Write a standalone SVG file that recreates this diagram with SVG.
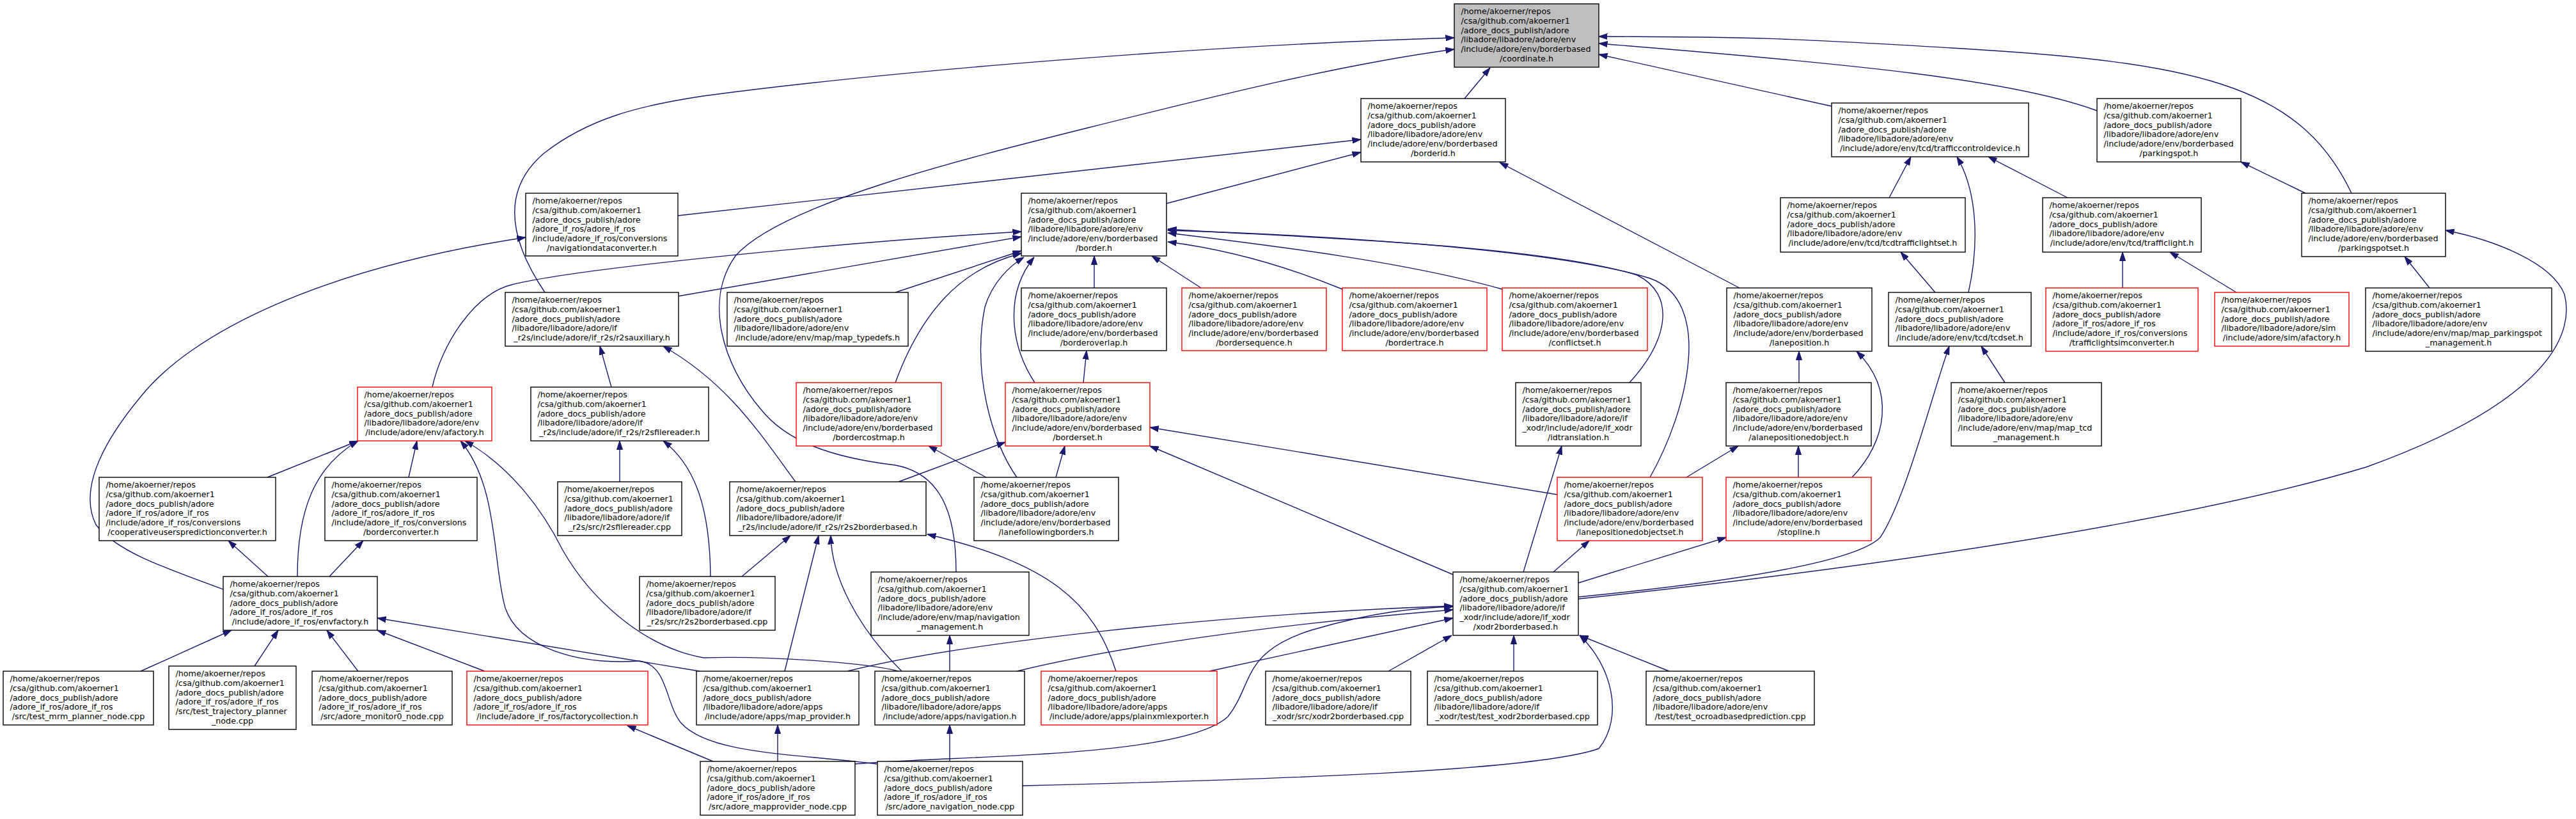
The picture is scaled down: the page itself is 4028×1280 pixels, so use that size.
<svg xmlns="http://www.w3.org/2000/svg" width="4028" height="1280" viewBox="0 0 4028 1280">
<style>
.n rect{fill:#fff;stroke:#000;stroke-width:1.4}
.n.r rect{stroke:#ff0000}
.n.g rect{fill:#bfbfbf}
.n text{font-family:"DejaVu Sans",sans-serif;font-size:12.7px;fill:#000}
.n .c{text-anchor:middle}
#edges path{fill:none;stroke:#191970;stroke-width:1.4;marker-end:url(#a)}
</style>
<defs>
<marker id="a" markerUnits="userSpaceOnUse" markerWidth="14" markerHeight="10" viewBox="0 0 14 10" refX="13.5" refY="5" orient="auto"><path d="M0,0.5 L13.5,5 L0,9.5 z" fill="#191970" stroke="#191970" stroke-width="1"/></marker>
</defs>
<rect width="4028" height="1280" fill="#fff"/>
<g id="edges">
<path d="M2290,154 L2330,106"/>
<path d="M1060,337 L2128,218"/>
<path d="M1824,318 L2128,238"/>
<path d="M2720,450 L2345,254"/>
<path d="M2864,166 L2500,85"/>
<path d="M3279,173 C3150,125 2900,100 2500,68"/>
<path d="M3677,302 C3600,140 3450,100 3100,78 S2700,58 2500,57"/>
<path d="M2954,309 L2988,245"/>
<path d="M3078,457 C3095,380 3092,300 3060,245"/>
<path d="M3026,457 L2972,394"/>
<path d="M3233,309 L3109,245"/>
<path d="M3319,450 L3319,394"/>
<path d="M3497,457 L3393,394"/>
<path d="M3799,450 L3760,401"/>
<path d="M3605,302 L3504,253"/>
<path d="M3135,598 L3098,541"/>
<path d="M2813,598 L2813,549"/>
<path d="M2812,746 L2812,697"/>
<path d="M2637,746 L2718,697"/>
<path d="M2896,746 C2950,690 2965,610 2903,549"/>
<path d="M1711,450 L1711,400"/>
<path d="M1878,450 L1801,400"/>
<path d="M2099,452 Q1960,395 1826,378"/>
<path d="M2349,452 C2200,410 2000,385 1826,364"/>
<path d="M2548,598 C2610,530 2620,460 2560,430 C2400,380 2000,370 1826,358"/>
<path d="M2580,746 C2640,640 2680,470 2580,435 C2420,385 2000,365 1826,360"/>
<path d="M1400,598 C1440,490 1500,420 1597,396"/>
<path d="M1590,746 C1550,690 1520,580 1540,480 C1552,440 1580,415 1601,402"/>
<path d="M1618,598 C1580,540 1570,460 1617,402"/>
<path d="M1060,463 L1597,370"/>
<path d="M1400,457 L1597,392"/>
<path d="M676,605 C690,540 740,460 800,445 C900,420 1300,380 1597,362"/>
<path d="M1694,598 L1699,548"/>
<path d="M1651,746 L1665,697"/>
<path d="M1542,746 L1452,697"/>
<path d="M2435,773 L1798,668"/>
<path d="M2272,898 L1798,697"/>
<path d="M1405,753 L1572,691"/>
<path d="M956,605 L938,541"/>
<path d="M1244,753 C1190,680 1140,600 1037,541"/>
<path d="M969,753 L969,689"/>
<path d="M1111,901 C1110,800 1090,730 1037,689"/>
<path d="M1160,901 L1236,837"/>
<path d="M1227,1049 L1280,837"/>
<path d="M1410,1049 C1340,980 1300,900 1299,837"/>
<path d="M1745,1049 C1710,940 1640,880 1450,835"/>
<path d="M1495,894 C1495,800 1470,740 1400,727 C1300,715 1230,690 1190,640 C1130,570 1100,470 1150,400 C1220,320 1500,250 1700,200 C1900,150 2100,100 2274,77"/>
<path d="M852,457 C800,380 780,300 850,240 C920,185 1000,165 1100,150 C1400,110 1900,70 2274,59"/>
<path d="M349,921 C250,885 180,860 150,820 C120,760 170,680 220,620 C300,520 500,420 822,371"/>
<path d="M465,901 C465,800 490,730 560,689"/>
<path d="M418,746 L560,689"/>
<path d="M639,746 L652,689"/>
<path d="M1371,1194 C1250,1178 1110,1180 1065,1130 C1040,1100 1045,1040 1000,1033 C900,1040 810,1010 790,950 C770,880 780,760 720,689"/>
<path d="M1405,1049 C1350,1035 1200,1025 1100,1028 C1000,1010 920,930 880,860 C850,800 800,730 727,689"/>
<path d="M515,901 L568,845"/>
<path d="M419,901 L357,845"/>
<path d="M220,1049 L362,985"/>
<path d="M398,1041 L435,985"/>
<path d="M560,1049 L511,985"/>
<path d="M758,1049 L590,985"/>
<path d="M1094,1049 L590,966"/>
<path d="M1115,1190 L981,1134"/>
<path d="M1216,1190 L1216,1133"/>
<path d="M1485,1190 L1485,1133"/>
<path d="M1485,1049 L1485,993"/>
<path d="M1325,1049 C1500,1005 1900,960 2272,947"/>
<path d="M1590,1049 C1750,1010 2000,975 2272,953"/>
<path d="M1891,1049 L2272,966"/>
<path d="M1337,1194 C1500,1180 1850,1185 1920,1120 C1960,1070 1940,1020 2050,985 C2150,955 2220,950 2272,948"/>
<path d="M1599,1228 C2000,1218 2400,1205 2500,1170 C2540,1120 2520,1040 2470,993"/>
<path d="M2171,1049 L2270,993"/>
<path d="M2367,1049 L2367,993"/>
<path d="M2610,1049 L2470,993"/>
<path d="M2382,894 L2442,697"/>
<path d="M2429,894 L2485,845"/>
<path d="M2468,911 L2699,840"/>
<path d="M2468,933 C2700,910 2900,880 2940,840 C2980,780 3020,620 3048,541"/>
<path d="M2468,936 C2900,890 3400,820 3700,730 C3950,640 4030,540 4010,460 C3990,410 3900,375 3824,360"/>
</g>
<g id="coord" class="n g"><rect x="2274" y="6" width="226" height="99"/><text><tspan x="2284.5" y="22.3">/home/akoerner/repos</tspan><tspan x="2284.5" y="37">/csa/github.com/akoerner1</tspan><tspan x="2284.5" y="51.6">/adore_docs_publish/adore</tspan><tspan x="2284.5" y="66.3">/libadore/libadore/adore/env</tspan><tspan x="2284.5" y="80.9">/include/adore/env/borderbased</tspan><tspan class="c" x="2387" y="95.6">/coordinate.h</tspan></text></g>
<g id="borderid" class="n"><rect x="2128" y="154" width="226" height="99"/><text><tspan x="2138.5" y="170.3">/home/akoerner/repos</tspan><tspan x="2138.5" y="185">/csa/github.com/akoerner1</tspan><tspan x="2138.5" y="199.6">/adore_docs_publish/adore</tspan><tspan x="2138.5" y="214.3">/libadore/libadore/adore/env</tspan><tspan x="2138.5" y="228.9">/include/adore/env/borderbased</tspan><tspan class="c" x="2241" y="243.6">/borderid.h</tspan></text></g>
<g id="tcd" class="n"><rect x="2864" y="161" width="308" height="84"/><text><tspan x="2874.5" y="177.3">/home/akoerner/repos</tspan><tspan x="2874.5" y="192">/csa/github.com/akoerner1</tspan><tspan x="2874.5" y="206.6">/adore_docs_publish/adore</tspan><tspan x="2874.5" y="221.3">/libadore/libadore/adore/env</tspan><tspan class="c" x="3018" y="235.9">/include/adore/env/tcd/trafficcontroldevice.h</tspan></text></g>
<g id="pspot" class="n"><rect x="3279" y="154" width="225" height="99"/><text><tspan x="3289.5" y="170.3">/home/akoerner/repos</tspan><tspan x="3289.5" y="185">/csa/github.com/akoerner1</tspan><tspan x="3289.5" y="199.6">/adore_docs_publish/adore</tspan><tspan x="3289.5" y="214.3">/libadore/libadore/adore/env</tspan><tspan x="3289.5" y="228.9">/include/adore/env/borderbased</tspan><tspan class="c" x="3391.5" y="243.6">/parkingspot.h</tspan></text></g>
<g id="navconv" class="n"><rect x="822" y="302" width="238" height="98"/><text><tspan x="832.5" y="318.3">/home/akoerner/repos</tspan><tspan x="832.5" y="333">/csa/github.com/akoerner1</tspan><tspan x="832.5" y="347.6">/adore_docs_publish/adore</tspan><tspan x="832.5" y="362.3">/adore_if_ros/adore_if_ros</tspan><tspan x="832.5" y="376.9">/include/adore_if_ros/conversions</tspan><tspan class="c" x="941" y="391.6">/navigationdataconverter.h</tspan></text></g>
<g id="border" class="n"><rect x="1597" y="302" width="227" height="98"/><text><tspan x="1607.5" y="318.3">/home/akoerner/repos</tspan><tspan x="1607.5" y="333">/csa/github.com/akoerner1</tspan><tspan x="1607.5" y="347.6">/adore_docs_publish/adore</tspan><tspan x="1607.5" y="362.3">/libadore/libadore/adore/env</tspan><tspan x="1607.5" y="376.9">/include/adore/env/borderbased</tspan><tspan class="c" x="1710.5" y="391.6">/border.h</tspan></text></g>
<g id="tcdtls" class="n"><rect x="2784" y="309" width="289" height="85"/><text><tspan x="2794.5" y="325.3">/home/akoerner/repos</tspan><tspan x="2794.5" y="340">/csa/github.com/akoerner1</tspan><tspan x="2794.5" y="354.6">/adore_docs_publish/adore</tspan><tspan x="2794.5" y="369.3">/libadore/libadore/adore/env</tspan><tspan class="c" x="2928.5" y="383.9">/include/adore/env/tcd/tcdtrafficlightset.h</tspan></text></g>
<g id="tl" class="n"><rect x="3194" y="309" width="248" height="85"/><text><tspan x="3204.5" y="325.3">/home/akoerner/repos</tspan><tspan x="3204.5" y="340">/csa/github.com/akoerner1</tspan><tspan x="3204.5" y="354.6">/adore_docs_publish/adore</tspan><tspan x="3204.5" y="369.3">/libadore/libadore/adore/env</tspan><tspan class="c" x="3318" y="383.9">/include/adore/env/tcd/trafficlight.h</tspan></text></g>
<g id="pspotset" class="n"><rect x="3599" y="302" width="225" height="99"/><text><tspan x="3609.5" y="318.3">/home/akoerner/repos</tspan><tspan x="3609.5" y="333">/csa/github.com/akoerner1</tspan><tspan x="3609.5" y="347.6">/adore_docs_publish/adore</tspan><tspan x="3609.5" y="362.3">/libadore/libadore/adore/env</tspan><tspan x="3609.5" y="376.9">/include/adore/env/borderbased</tspan><tspan class="c" x="3711.5" y="391.6">/parkingspotset.h</tspan></text></g>
<g id="r2saux" class="n"><rect x="790" y="457" width="271" height="84"/><text><tspan x="800.5" y="473.3">/home/akoerner/repos</tspan><tspan x="800.5" y="488">/csa/github.com/akoerner1</tspan><tspan x="800.5" y="502.6">/adore_docs_publish/adore</tspan><tspan x="800.5" y="517.3">/libadore/libadore/adore/if</tspan><tspan class="c" x="925.5" y="531.9">_r2s/include/adore/if_r2s/r2sauxiliary.h</tspan></text></g>
<g id="maptypedefs" class="n"><rect x="1137" y="457" width="283" height="84"/><text><tspan x="1147.5" y="473.3">/home/akoerner/repos</tspan><tspan x="1147.5" y="488">/csa/github.com/akoerner1</tspan><tspan x="1147.5" y="502.6">/adore_docs_publish/adore</tspan><tspan x="1147.5" y="517.3">/libadore/libadore/adore/env</tspan><tspan class="c" x="1278.5" y="531.9">/include/adore/env/map/map_typedefs.h</tspan></text></g>
<g id="boverlap" class="n"><rect x="1597" y="450" width="227" height="98"/><text><tspan x="1607.5" y="466.3">/home/akoerner/repos</tspan><tspan x="1607.5" y="481">/csa/github.com/akoerner1</tspan><tspan x="1607.5" y="495.6">/adore_docs_publish/adore</tspan><tspan x="1607.5" y="510.3">/libadore/libadore/adore/env</tspan><tspan x="1607.5" y="524.9">/include/adore/env/borderbased</tspan><tspan class="c" x="1710.5" y="539.6">/borderoverlap.h</tspan></text></g>
<g id="bseq" class="n r"><rect x="1848" y="450" width="226" height="98"/><text><tspan x="1858.5" y="466.3">/home/akoerner/repos</tspan><tspan x="1858.5" y="481">/csa/github.com/akoerner1</tspan><tspan x="1858.5" y="495.6">/adore_docs_publish/adore</tspan><tspan x="1858.5" y="510.3">/libadore/libadore/adore/env</tspan><tspan x="1858.5" y="524.9">/include/adore/env/borderbased</tspan><tspan class="c" x="1961" y="539.6">/bordersequence.h</tspan></text></g>
<g id="btrace" class="n r"><rect x="2099" y="450" width="226" height="98"/><text><tspan x="2109.5" y="466.3">/home/akoerner/repos</tspan><tspan x="2109.5" y="481">/csa/github.com/akoerner1</tspan><tspan x="2109.5" y="495.6">/adore_docs_publish/adore</tspan><tspan x="2109.5" y="510.3">/libadore/libadore/adore/env</tspan><tspan x="2109.5" y="524.9">/include/adore/env/borderbased</tspan><tspan class="c" x="2212" y="539.6">/bordertrace.h</tspan></text></g>
<g id="conflict" class="n r"><rect x="2349" y="450" width="227" height="98"/><text><tspan x="2359.5" y="466.3">/home/akoerner/repos</tspan><tspan x="2359.5" y="481">/csa/github.com/akoerner1</tspan><tspan x="2359.5" y="495.6">/adore_docs_publish/adore</tspan><tspan x="2359.5" y="510.3">/libadore/libadore/adore/env</tspan><tspan x="2359.5" y="524.9">/include/adore/env/borderbased</tspan><tspan class="c" x="2462.5" y="539.6">/conflictset.h</tspan></text></g>
<g id="lanepos" class="n"><rect x="2700" y="450" width="227" height="99"/><text><tspan x="2710.5" y="466.3">/home/akoerner/repos</tspan><tspan x="2710.5" y="481">/csa/github.com/akoerner1</tspan><tspan x="2710.5" y="495.6">/adore_docs_publish/adore</tspan><tspan x="2710.5" y="510.3">/libadore/libadore/adore/env</tspan><tspan x="2710.5" y="524.9">/include/adore/env/borderbased</tspan><tspan class="c" x="2813.5" y="539.6">/laneposition.h</tspan></text></g>
<g id="tcdset" class="n"><rect x="2953" y="457" width="223" height="84"/><text><tspan x="2963.5" y="473.3">/home/akoerner/repos</tspan><tspan x="2963.5" y="488">/csa/github.com/akoerner1</tspan><tspan x="2963.5" y="502.6">/adore_docs_publish/adore</tspan><tspan x="2963.5" y="517.3">/libadore/libadore/adore/env</tspan><tspan class="c" x="3064.5" y="531.9">/include/adore/env/tcd/tcdset.h</tspan></text></g>
<g id="tlsim" class="n r"><rect x="3199" y="450" width="238" height="99"/><text><tspan x="3209.5" y="466.3">/home/akoerner/repos</tspan><tspan x="3209.5" y="481">/csa/github.com/akoerner1</tspan><tspan x="3209.5" y="495.6">/adore_docs_publish/adore</tspan><tspan x="3209.5" y="510.3">/adore_if_ros/adore_if_ros</tspan><tspan x="3209.5" y="524.9">/include/adore_if_ros/conversions</tspan><tspan class="c" x="3318" y="539.6">/trafficlightsimconverter.h</tspan></text></g>
<g id="afsim" class="n r"><rect x="3463" y="457" width="210" height="84"/><text><tspan x="3473.5" y="473.3">/home/akoerner/repos</tspan><tspan x="3473.5" y="488">/csa/github.com/akoerner1</tspan><tspan x="3473.5" y="502.6">/adore_docs_publish/adore</tspan><tspan x="3473.5" y="517.3">/libadore/libadore/adore/sim</tspan><tspan class="c" x="3568" y="531.9">/include/adore/sim/afactory.h</tspan></text></g>
<g id="mappsm" class="n"><rect x="3699" y="450" width="291" height="99"/><text><tspan x="3709.5" y="466.3">/home/akoerner/repos</tspan><tspan x="3709.5" y="481">/csa/github.com/akoerner1</tspan><tspan x="3709.5" y="495.6">/adore_docs_publish/adore</tspan><tspan x="3709.5" y="510.3">/libadore/libadore/adore/env</tspan><tspan x="3709.5" y="524.9">/include/adore/env/map/map_parkingspot</tspan><tspan class="c" x="3844.5" y="539.6">_management.h</tspan></text></g>
<g id="afenv" class="n r"><rect x="559" y="605" width="210" height="84"/><text><tspan x="569.5" y="621.3">/home/akoerner/repos</tspan><tspan x="569.5" y="636">/csa/github.com/akoerner1</tspan><tspan x="569.5" y="650.6">/adore_docs_publish/adore</tspan><tspan x="569.5" y="665.3">/libadore/libadore/adore/env</tspan><tspan class="c" x="664" y="679.9">/include/adore/env/afactory.h</tspan></text></g>
<g id="r2sfr" class="n"><rect x="830" y="605" width="278" height="84"/><text><tspan x="840.5" y="621.3">/home/akoerner/repos</tspan><tspan x="840.5" y="636">/csa/github.com/akoerner1</tspan><tspan x="840.5" y="650.6">/adore_docs_publish/adore</tspan><tspan x="840.5" y="665.3">/libadore/libadore/adore/if</tspan><tspan class="c" x="969" y="679.9">_r2s/include/adore/if_r2s/r2sfilereader.h</tspan></text></g>
<g id="bcost" class="n r"><rect x="1245" y="598" width="227" height="99"/><text><tspan x="1255.5" y="614.3">/home/akoerner/repos</tspan><tspan x="1255.5" y="629">/csa/github.com/akoerner1</tspan><tspan x="1255.5" y="643.6">/adore_docs_publish/adore</tspan><tspan x="1255.5" y="658.3">/libadore/libadore/adore/env</tspan><tspan x="1255.5" y="672.9">/include/adore/env/borderbased</tspan><tspan class="c" x="1358.5" y="687.6">/bordercostmap.h</tspan></text></g>
<g id="bset" class="n r"><rect x="1572" y="598" width="226" height="99"/><text><tspan x="1582.5" y="614.3">/home/akoerner/repos</tspan><tspan x="1582.5" y="629">/csa/github.com/akoerner1</tspan><tspan x="1582.5" y="643.6">/adore_docs_publish/adore</tspan><tspan x="1582.5" y="658.3">/libadore/libadore/adore/env</tspan><tspan x="1582.5" y="672.9">/include/adore/env/borderbased</tspan><tspan class="c" x="1685" y="687.6">/borderset.h</tspan></text></g>
<g id="idtrans" class="n"><rect x="2370" y="598" width="196" height="99"/><text><tspan x="2380.5" y="614.3">/home/akoerner/repos</tspan><tspan x="2380.5" y="629">/csa/github.com/akoerner1</tspan><tspan x="2380.5" y="643.6">/adore_docs_publish/adore</tspan><tspan x="2380.5" y="658.3">/libadore/libadore/adore/if</tspan><tspan x="2380.5" y="672.9">_xodr/include/adore/if_xodr</tspan><tspan class="c" x="2468" y="687.6">/idtranslation.h</tspan></text></g>
<g id="alpo" class="n"><rect x="2699" y="598" width="227" height="99"/><text><tspan x="2709.5" y="614.3">/home/akoerner/repos</tspan><tspan x="2709.5" y="629">/csa/github.com/akoerner1</tspan><tspan x="2709.5" y="643.6">/adore_docs_publish/adore</tspan><tspan x="2709.5" y="658.3">/libadore/libadore/adore/env</tspan><tspan x="2709.5" y="672.9">/include/adore/env/borderbased</tspan><tspan class="c" x="2812.5" y="687.6">/alanepositionedobject.h</tspan></text></g>
<g id="maptcd" class="n"><rect x="3051" y="598" width="235" height="99"/><text><tspan x="3061.5" y="614.3">/home/akoerner/repos</tspan><tspan x="3061.5" y="629">/csa/github.com/akoerner1</tspan><tspan x="3061.5" y="643.6">/adore_docs_publish/adore</tspan><tspan x="3061.5" y="658.3">/libadore/libadore/adore/env</tspan><tspan x="3061.5" y="672.9">/include/adore/env/map/map_tcd</tspan><tspan class="c" x="3168.5" y="687.6">_management.h</tspan></text></g>
<g id="coop" class="n"><rect x="155" y="746" width="276" height="99"/><text><tspan x="165.5" y="762.3">/home/akoerner/repos</tspan><tspan x="165.5" y="777">/csa/github.com/akoerner1</tspan><tspan x="165.5" y="791.6">/adore_docs_publish/adore</tspan><tspan x="165.5" y="806.3">/adore_if_ros/adore_if_ros</tspan><tspan x="165.5" y="820.9">/include/adore_if_ros/conversions</tspan><tspan class="c" x="293" y="835.6">/cooperativeuserspredictionconverter.h</tspan></text></g>
<g id="bconv" class="n"><rect x="508" y="746" width="238" height="99"/><text><tspan x="518.5" y="762.3">/home/akoerner/repos</tspan><tspan x="518.5" y="777">/csa/github.com/akoerner1</tspan><tspan x="518.5" y="791.6">/adore_docs_publish/adore</tspan><tspan x="518.5" y="806.3">/adore_if_ros/adore_if_ros</tspan><tspan x="518.5" y="820.9">/include/adore_if_ros/conversions</tspan><tspan class="c" x="627" y="835.6">/borderconverter.h</tspan></text></g>
<g id="r2sfrcpp" class="n"><rect x="872" y="753" width="194" height="84"/><text><tspan x="882.5" y="769.3">/home/akoerner/repos</tspan><tspan x="882.5" y="784">/csa/github.com/akoerner1</tspan><tspan x="882.5" y="798.6">/adore_docs_publish/adore</tspan><tspan x="882.5" y="813.3">/libadore/libadore/adore/if</tspan><tspan class="c" x="969" y="827.9">_r2s/src/r2sfilereader.cpp</tspan></text></g>
<g id="r2s2bb" class="n"><rect x="1141" y="753" width="307" height="84"/><text><tspan x="1151.5" y="769.3">/home/akoerner/repos</tspan><tspan x="1151.5" y="784">/csa/github.com/akoerner1</tspan><tspan x="1151.5" y="798.6">/adore_docs_publish/adore</tspan><tspan x="1151.5" y="813.3">/libadore/libadore/adore/if</tspan><tspan class="c" x="1294.5" y="827.9">_r2s/include/adore/if_r2s/r2s2borderbased.h</tspan></text></g>
<g id="lfb" class="n"><rect x="1523" y="746" width="226" height="99"/><text><tspan x="1533.5" y="762.3">/home/akoerner/repos</tspan><tspan x="1533.5" y="777">/csa/github.com/akoerner1</tspan><tspan x="1533.5" y="791.6">/adore_docs_publish/adore</tspan><tspan x="1533.5" y="806.3">/libadore/libadore/adore/env</tspan><tspan x="1533.5" y="820.9">/include/adore/env/borderbased</tspan><tspan class="c" x="1636" y="835.6">/lanefollowingborders.h</tspan></text></g>
<g id="lpos" class="n r"><rect x="2435" y="746" width="227" height="99"/><text><tspan x="2445.5" y="762.3">/home/akoerner/repos</tspan><tspan x="2445.5" y="777">/csa/github.com/akoerner1</tspan><tspan x="2445.5" y="791.6">/adore_docs_publish/adore</tspan><tspan x="2445.5" y="806.3">/libadore/libadore/adore/env</tspan><tspan x="2445.5" y="820.9">/include/adore/env/borderbased</tspan><tspan class="c" x="2548.5" y="835.6">/lanepositionedobjectset.h</tspan></text></g>
<g id="stopline" class="n r"><rect x="2699" y="746" width="227" height="99"/><text><tspan x="2709.5" y="762.3">/home/akoerner/repos</tspan><tspan x="2709.5" y="777">/csa/github.com/akoerner1</tspan><tspan x="2709.5" y="791.6">/adore_docs_publish/adore</tspan><tspan x="2709.5" y="806.3">/libadore/libadore/adore/env</tspan><tspan x="2709.5" y="820.9">/include/adore/env/borderbased</tspan><tspan class="c" x="2812.5" y="835.6">/stopline.h</tspan></text></g>
<g id="envf" class="n"><rect x="349" y="901" width="241" height="84"/><text><tspan x="359.5" y="917.3">/home/akoerner/repos</tspan><tspan x="359.5" y="932">/csa/github.com/akoerner1</tspan><tspan x="359.5" y="946.6">/adore_docs_publish/adore</tspan><tspan x="359.5" y="961.3">/adore_if_ros/adore_if_ros</tspan><tspan class="c" x="469.5" y="975.9">/include/adore_if_ros/envfactory.h</tspan></text></g>
<g id="r2s2bbcpp" class="n"><rect x="1000" y="901" width="212" height="84"/><text><tspan x="1010.5" y="917.3">/home/akoerner/repos</tspan><tspan x="1010.5" y="932">/csa/github.com/akoerner1</tspan><tspan x="1010.5" y="946.6">/adore_docs_publish/adore</tspan><tspan x="1010.5" y="961.3">/libadore/libadore/adore/if</tspan><tspan class="c" x="1106" y="975.9">_r2s/src/r2s2borderbased.cpp</tspan></text></g>
<g id="mapnav" class="n"><rect x="1362" y="894" width="247" height="99"/><text><tspan x="1372.5" y="910.3">/home/akoerner/repos</tspan><tspan x="1372.5" y="925">/csa/github.com/akoerner1</tspan><tspan x="1372.5" y="939.6">/adore_docs_publish/adore</tspan><tspan x="1372.5" y="954.3">/libadore/libadore/adore/env</tspan><tspan x="1372.5" y="968.9">/include/adore/env/map/navigation</tspan><tspan class="c" x="1485.5" y="983.6">_management.h</tspan></text></g>
<g id="xodr2bb" class="n"><rect x="2272" y="894" width="196" height="99"/><text><tspan x="2282.5" y="910.3">/home/akoerner/repos</tspan><tspan x="2282.5" y="925">/csa/github.com/akoerner1</tspan><tspan x="2282.5" y="939.6">/adore_docs_publish/adore</tspan><tspan x="2282.5" y="954.3">/libadore/libadore/adore/if</tspan><tspan x="2282.5" y="968.9">_xodr/include/adore/if_xodr</tspan><tspan class="c" x="2370" y="983.6">/xodr2borderbased.h</tspan></text></g>
<g id="mrm" class="n"><rect x="5" y="1049" width="235" height="84"/><text><tspan x="15.5" y="1065.3">/home/akoerner/repos</tspan><tspan x="15.5" y="1080">/csa/github.com/akoerner1</tspan><tspan x="15.5" y="1094.6">/adore_docs_publish/adore</tspan><tspan x="15.5" y="1109.3">/adore_if_ros/adore_if_ros</tspan><tspan class="c" x="122.5" y="1123.9">/src/test_mrm_planner_node.cpp</tspan></text></g>
<g id="traj" class="n"><rect x="264" y="1041" width="199" height="99"/><text><tspan x="274.5" y="1057.3">/home/akoerner/repos</tspan><tspan x="274.5" y="1072">/csa/github.com/akoerner1</tspan><tspan x="274.5" y="1086.6">/adore_docs_publish/adore</tspan><tspan x="274.5" y="1101.3">/adore_if_ros/adore_if_ros</tspan><tspan x="274.5" y="1115.9">/src/test_trajectory_planner</tspan><tspan class="c" x="363.5" y="1130.6">_node.cpp</tspan></text></g>
<g id="mon" class="n"><rect x="488" y="1049" width="219" height="84"/><text><tspan x="498.5" y="1065.3">/home/akoerner/repos</tspan><tspan x="498.5" y="1080">/csa/github.com/akoerner1</tspan><tspan x="498.5" y="1094.6">/adore_docs_publish/adore</tspan><tspan x="498.5" y="1109.3">/adore_if_ros/adore_if_ros</tspan><tspan class="c" x="597.5" y="1123.9">/src/adore_monitor0_node.cpp</tspan></text></g>
<g id="fc" class="n r"><rect x="730" y="1049" width="283" height="84"/><text><tspan x="740.5" y="1065.3">/home/akoerner/repos</tspan><tspan x="740.5" y="1080">/csa/github.com/akoerner1</tspan><tspan x="740.5" y="1094.6">/adore_docs_publish/adore</tspan><tspan x="740.5" y="1109.3">/adore_if_ros/adore_if_ros</tspan><tspan class="c" x="871.5" y="1123.9">/include/adore_if_ros/factorycollection.h</tspan></text></g>
<g id="mp" class="n"><rect x="1089" y="1049" width="254" height="84"/><text><tspan x="1099.5" y="1065.3">/home/akoerner/repos</tspan><tspan x="1099.5" y="1080">/csa/github.com/akoerner1</tspan><tspan x="1099.5" y="1094.6">/adore_docs_publish/adore</tspan><tspan x="1099.5" y="1109.3">/libadore/libadore/adore/apps</tspan><tspan class="c" x="1216" y="1123.9">/include/adore/apps/map_provider.h</tspan></text></g>
<g id="nav" class="n"><rect x="1368" y="1049" width="234" height="84"/><text><tspan x="1378.5" y="1065.3">/home/akoerner/repos</tspan><tspan x="1378.5" y="1080">/csa/github.com/akoerner1</tspan><tspan x="1378.5" y="1094.6">/adore_docs_publish/adore</tspan><tspan x="1378.5" y="1109.3">/libadore/libadore/adore/apps</tspan><tspan class="c" x="1485" y="1123.9">/include/adore/apps/navigation.h</tspan></text></g>
<g id="pxml" class="n r"><rect x="1628" y="1049" width="275" height="84"/><text><tspan x="1638.5" y="1065.3">/home/akoerner/repos</tspan><tspan x="1638.5" y="1080">/csa/github.com/akoerner1</tspan><tspan x="1638.5" y="1094.6">/adore_docs_publish/adore</tspan><tspan x="1638.5" y="1109.3">/libadore/libadore/adore/apps</tspan><tspan class="c" x="1765.5" y="1123.9">/include/adore/apps/plainxmlexporter.h</tspan></text></g>
<g id="xcpp" class="n"><rect x="1979" y="1049" width="227" height="84"/><text><tspan x="1989.5" y="1065.3">/home/akoerner/repos</tspan><tspan x="1989.5" y="1080">/csa/github.com/akoerner1</tspan><tspan x="1989.5" y="1094.6">/adore_docs_publish/adore</tspan><tspan x="1989.5" y="1109.3">/libadore/libadore/adore/if</tspan><tspan class="c" x="2092.5" y="1123.9">_xodr/src/xodr2borderbased.cpp</tspan></text></g>
<g id="txcpp" class="n"><rect x="2232" y="1049" width="266" height="84"/><text><tspan x="2242.5" y="1065.3">/home/akoerner/repos</tspan><tspan x="2242.5" y="1080">/csa/github.com/akoerner1</tspan><tspan x="2242.5" y="1094.6">/adore_docs_publish/adore</tspan><tspan x="2242.5" y="1109.3">/libadore/libadore/adore/if</tspan><tspan class="c" x="2365" y="1123.9">_xodr/test/test_xodr2borderbased.cpp</tspan></text></g>
<g id="ocr" class="n"><rect x="2574" y="1049" width="263" height="84"/><text><tspan x="2584.5" y="1065.3">/home/akoerner/repos</tspan><tspan x="2584.5" y="1080">/csa/github.com/akoerner1</tspan><tspan x="2584.5" y="1094.6">/adore_docs_publish/adore</tspan><tspan x="2584.5" y="1109.3">/libadore/libadore/adore/env</tspan><tspan class="c" x="2705.5" y="1123.9">/test/test_ocroadbasedprediction.cpp</tspan></text></g>
<g id="mpnode" class="n"><rect x="1095" y="1190" width="242" height="84"/><text><tspan x="1105.5" y="1206.3">/home/akoerner/repos</tspan><tspan x="1105.5" y="1221">/csa/github.com/akoerner1</tspan><tspan x="1105.5" y="1235.6">/adore_docs_publish/adore</tspan><tspan x="1105.5" y="1250.3">/adore_if_ros/adore_if_ros</tspan><tspan class="c" x="1216" y="1264.9">/src/adore_mapprovider_node.cpp</tspan></text></g>
<g id="navnode" class="n"><rect x="1372" y="1190" width="227" height="84"/><text><tspan x="1382.5" y="1206.3">/home/akoerner/repos</tspan><tspan x="1382.5" y="1221">/csa/github.com/akoerner1</tspan><tspan x="1382.5" y="1235.6">/adore_docs_publish/adore</tspan><tspan x="1382.5" y="1250.3">/adore_if_ros/adore_if_ros</tspan><tspan class="c" x="1485.5" y="1264.9">/src/adore_navigation_node.cpp</tspan></text></g>
</svg>
